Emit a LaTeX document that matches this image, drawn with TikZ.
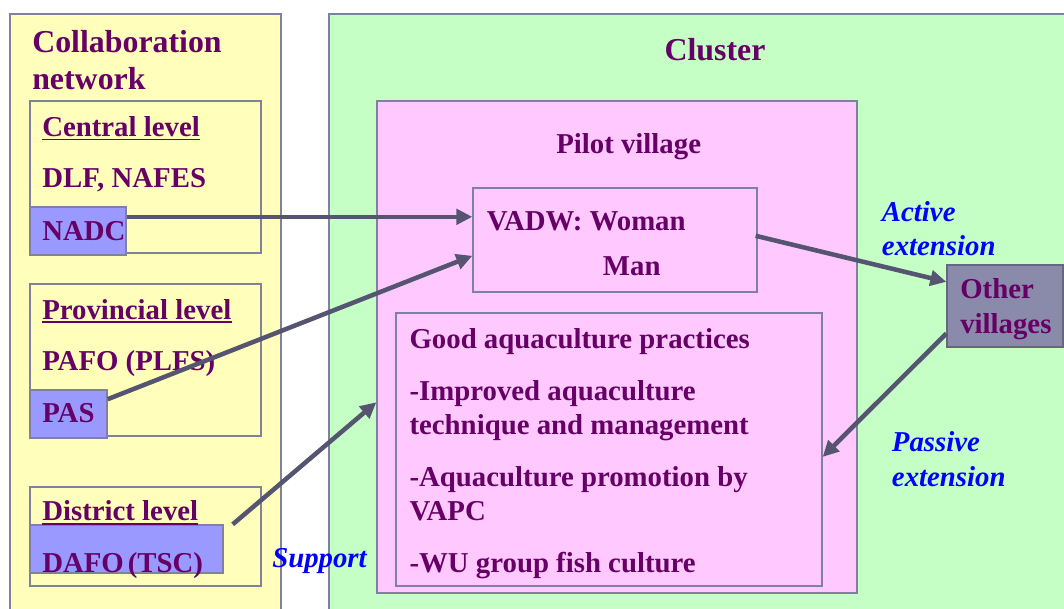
\documentclass[tikz,border=0pt]{standalone}
\usepackage{fontspec}
\setmainfont{Liberation Serif}
\usetikzlibrary{arrows.meta,calc,fit}
\definecolor{txt}{HTML}{660066}
\definecolor{yel}{HTML}{FFFFBB}
\definecolor{grn}{HTML}{C6FFC6}
\definecolor{pnk}{HTML}{FFC9FF}
\definecolor{blu}{HTML}{9999FF}
\definecolor{oth}{HTML}{8A8AAA}
\definecolor{edge}{HTML}{8080A0}
\definecolor{arr}{HTML}{555572}
\definecolor{lblue}{HTML}{0000FF}
\tikzset{
  box/.style={draw=edge, line width=1pt, inner sep=0pt},
  lbl/.style={anchor=base west, inner sep=0pt, text=txt, font=\bfseries\fontsize{21.6}{26}\selectfont},
  biglbl/.style={lbl, font=\bfseries\fontsize{23.9}{28}\selectfont},
  bluelbl/.style={anchor=base west, inner sep=0pt, text=lblue, font=\bfseries\itshape\fontsize{21.6}{26}\selectfont},
  conn/.style={draw=arr, line width=3.4pt, -{Triangle[length=12pt,width=11.5pt]}},
  uline/.style={draw=txt, line width=1.3pt}
}
\begin{document}
\begin{tikzpicture}[x=0.75pt,y=-0.75pt]
\useasboundingbox (0,0) rectangle (1064,608);
\begin{scope}
\clip (0,0) rectangle (1064,608);
\node[box, fill=yel, fit={(10,14) (281,640)}] (collab) {};
\node[box, fill=grn, fit={(329,14) (1090,640)}] (cluster) {};
\end{scope}
% pilot village
\node[box, fill=pnk, fit={(377,101) (857,593)}] (pilot) {};
\node[box, fill=pnk, fit={(473,188) (757,292)}] (vadw) {};
\node[box, fill=pnk, fit={(396,313) (822,586)}] (good) {};
\node[box, draw=edge!80!black, fill=oth, fit={(947,265) (1063,347)}] (other) {};
% collaboration levels
\node[box, fill=yel, fit={(30,101) (261,253)}] (central) {};
\node[box, fill=blu, fit={(30,207) (126,255)}] (nadc) {};
\node[box, fill=yel, fit={(30,284) (261,436)}] (prov) {};
\node[box, fill=blu, fit={(30,390) (107,438)}] (pas) {};
\node[box, fill=yel, fit={(30,487) (261,586)}] (dist) {};
\node[box, fill=blu, fit={(30,525) (223,573)}] (dafo) {};
% texts
\node[biglbl] (t1) at (32,52) {Collaboration};
\node[biglbl] (t2) at (32,89) {network};
\node[lbl] (t3) at (42,136.5) {Central level};
\draw[uline] ($(t3.base west)+(0,3)$) -- ($(t3.base east)+(0,3)$);
\node[lbl] (t4) at (42,187.7) {DLF, NAFES};
\node[lbl] (t5) at (42,240) {NADC};
\node[lbl] (t6) at (42,319.3) {Provincial level};
\draw[uline] ($(t6.base west)+(0,3)$) -- ($(t6.base east)+(0,3)$);
\node[lbl] (t7) at (42,370.7) {PAFO (PLFS)};
\node[lbl] (t8) at (42,422.7) {PAS};
\node[lbl] (t9) at (42,520.7) {District level};
\draw[uline] ($(t9.base west)+(0,3)$) -- ($(t9.base east)+(0,3)$);
\node[lbl] (t10) at (42,572.7) {DAFO\hspace{3pt}(TSC)};
\node[bluelbl] (sup) at (272,567) {Support};
\node[biglbl, anchor=base] (t11) at (715,60) {Cluster};
\node[lbl] (t12) at (556,153.3) {Pilot village};
\node[lbl] (t13) at (486.7,230) {VADW: Woman};
\node[lbl] (t14) at (602.7,275.7) {Man};
\node[lbl] (t15) at (960,298.3) {Other};
\node[lbl] (t16) at (960,333.3) {villages};
\node[bluelbl] (a1) at (881.7,221.7) {Active};
\node[bluelbl] (a2) at (881.7,255) {extension};
\node[bluelbl] (p1) at (891.7,451.7) {Passive};
\node[bluelbl] (p2) at (891.7,486) {extension};
\node[lbl] (g1) at (409.3,348.3) {Good aquaculture practices};
\node[lbl] (g2) at (409.3,400) {-Improved aquaculture};
\node[lbl] (g3) at (409.3,434.3) {technique and management};
\node[lbl] (g4) at (409.3,486) {-Aquaculture promotion by};
\node[lbl] (g5) at (409.3,520.7) {VAPC};
\node[lbl] (g6) at (409.3,572.7) {-WU group fish culture};
% connectors
\coordinate (vin1) at ($(vadw.north west)!0.28!(vadw.south west)$);
\draw[conn] (nadc.east |- vin1) -- (vin1);
\draw[conn] ($(pas.north east)!0.2!(pas.south east)$) -- ($(vadw.north west)!0.65!(vadw.south west)$);
\draw[conn] ($(dafo.north east)+(9,0)$) -- ($(pilot.north west)!0.612!(pilot.south west)$);
\draw[conn] ($(vadw.north east)!0.46!(vadw.south east)+(-2,0)$) -- ($(other.north west)!0.21!(other.south west)$);
\draw[conn] ($(other.north west)!0.83!(other.south west)$) -- ($(good.north east)!0.527!(good.south east)$);
\end{tikzpicture}
\end{document}
